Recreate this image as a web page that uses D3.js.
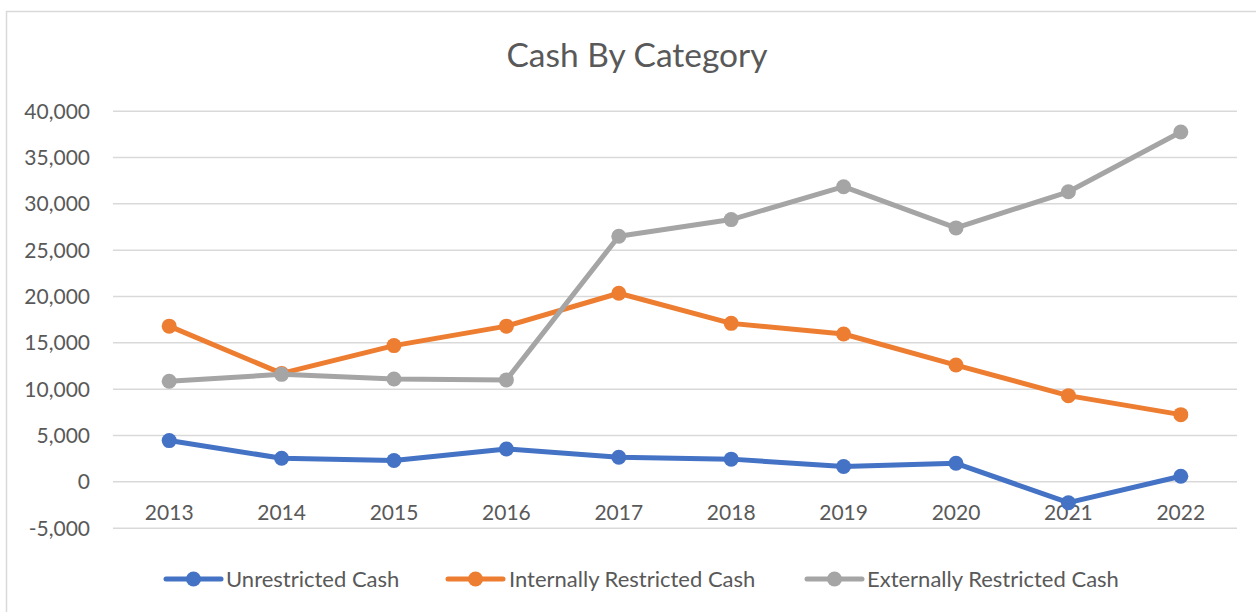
<!DOCTYPE html>
<html>
<head>
<meta charset="utf-8">
<script src="https://cdn.jsdelivr.net/npm/d3@7"></script>
<style>
  html, body { margin: 0; padding: 0; background: #fff; }
  svg { display: block; }
  text { font-family: Lato, "Open Sans", sans-serif; fill: #595959; }
</style>
</head>
<body>
<svg id="chart" width="1256" height="612"></svg>
<script>
const years = ["2013","2014","2015","2016","2017","2018","2019","2020","2021","2022"];
const unrestricted = [4400, 2500, 2250, 3500, 2600, 2400, 1600, 1950, -2300, 550];
const internallyRestricted = [16750, 11650, 14650, 16750, 20300, 17050, 15900, 12550, 9250, 7200];
const externallyRestricted = [10800, 11550, 11050, 10950, 26450, 28250, 31800, 27350, 31250, 37700];
const seriesNames = ["Unrestricted Cash", "Internally Restricted Cash", "Externally Restricted Cash"];
const seriesColors = ["#4472C4", "#ED7D31", "#A5A5A5"];
const yTicks = [-5000, 0, 5000, 10000, 15000, 20000, 25000, 30000, 35000, 40000];
const chartTitle = "Cash By Category";

const series = [unrestricted, internallyRestricted, externallyRestricted].map((vals, i) => ({
  name: seriesNames[i], color: seriesColors[i],
  values: vals.map((v, j) => ({ year: years[j], value: v }))
}));

const svg = d3.select("#chart");

// chart border
svg.append("rect")
  .attr("x", 6.5).attr("y", 11.5).attr("width", 1300).attr("height", 700)
  .attr("fill", "none").attr("stroke", "#d9d9d9").attr("stroke-width", 1.5);

const x = d3.scaleBand().domain(years).range([113, 1237]);
const y = d3.scaleLinear().domain([-5000, 40000]).range([527.7, 110.7]);

// title
svg.append("text")
  .attr("x", 637).attr("y", 67)
  .attr("text-anchor", "middle")
  .style("font-size", "33.5px")
  .text(chartTitle);

const fmt = d3.format(",");
// gridlines
const yAxis = d3.axisLeft(y).tickValues(yTicks)
  .tickSize(-(1237 - 113))
  .tickPadding(23)
  .tickFormat(d => fmt(d).replace("\u2212", "-"));
const gy = svg.append("g").attr("transform", "translate(113,0)").call(yAxis);
gy.select(".domain").remove();
gy.selectAll(".tick line").attr("stroke", "#d9d9d9").attr("stroke-width", 1.5);
gy.selectAll(".tick text").style("font-size", "21px").attr("fill", "#595959").attr("dy", "0.35em");

// x axis labels
const xAxis = d3.axisBottom(x).tickSize(0).tickPadding(0);
const gx = svg.append("g").attr("transform", "translate(0,506)").call(xAxis);
gx.select(".domain").remove();
gx.selectAll(".tick text").style("font-size", "21px").attr("fill", "#595959").attr("dy", "0.35em").attr("y", 6.5);

const line = d3.line()
  .x(d => x(d.year) + x.bandwidth() / 2)
  .y(d => y(d.value));

const g = svg.append("g");
series.forEach(s => {
  g.append("path")
    .datum(s.values)
    .attr("fill", "none")
    .attr("stroke", s.color)
    .attr("stroke-width", 5)
    .attr("stroke-linejoin", "round")
    .attr("d", line);
  g.selectAll(null)
    .data(s.values)
    .enter().append("circle")
    .attr("cx", d => x(d.year) + x.bandwidth() / 2)
    .attr("cy", d => y(d.value))
    .attr("r", 7.5)
    .attr("fill", s.color);
});

// legend
const legendItems = [
  { lx: 166, tx: 226 },
  { lx: 448, tx: 509 },
  { lx: 807, tx: 867 }
];
const ly = 579;
series.forEach((s, i) => {
  const lg = svg.append("g");
  lg.append("line")
    .attr("x1", legendItems[i].lx).attr("x2", legendItems[i].lx + 55)
    .attr("y1", ly).attr("y2", ly)
    .attr("stroke", s.color).attr("stroke-width", 5).attr("stroke-linecap", "round");
  lg.append("circle")
    .attr("cx", legendItems[i].lx + 27.5).attr("cy", ly).attr("r", 7.5).attr("fill", s.color);
  lg.append("text")
    .attr("x", legendItems[i].tx).attr("y", ly).attr("dy", "0.35em")
    .style("font-size", "22px")
    .text(s.name);
});
</script>
</body>
</html>
